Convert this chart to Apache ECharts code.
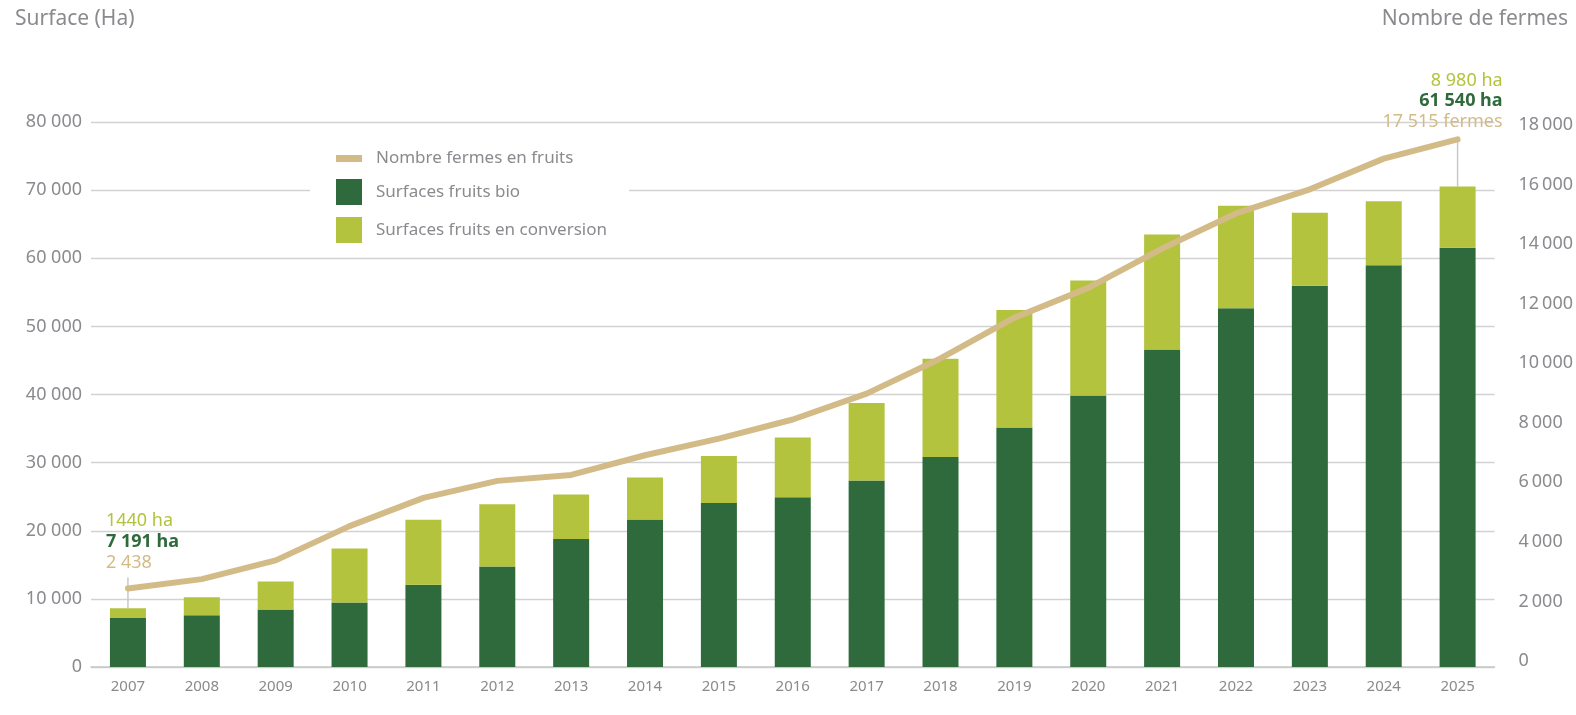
<!DOCTYPE html>
<html>
<head>
<meta charset="utf-8">
<script src="https://cdn.jsdelivr.net/npm/echarts@6/dist/echarts.min.js"></script>
<style>
  html, body { margin: 0; padding: 0; background: #fff; }
  #chart { width: 1576px; height: 715px; }
</style>
</head>
<body>
<div id="chart"></div>
<script>
// données
const annees = ['2007', '2008', '2009', '2010', '2011', '2012', '2013', '2014', '2015', '2016',
  '2017', '2018', '2019', '2020', '2021', '2022', '2023', '2024', '2025'];
const surfacesBio = [7191, 7590, 8430, 9450, 12090, 14740, 18790, 21640, 24070, 24910,
  27360, 30820, 35140, 39840, 46590, 52650, 55980, 58960, 61540];
const surfacesConversion = [1440, 2640, 4110, 7930, 9540, 9150, 6520, 6170, 6900, 8760,
  11390, 14440, 17260, 16880, 16880, 15070, 10710, 9390, 8980];
const nombreFermes = [2438, 2750, 3380, 4530, 5480, 6050, 6250, 6910, 7470, 8110,
  8980, 10160, 11530, 12530, 13850, 15030, 15840, 16870, 17515];
const fermesTicks = [0, 2000, 4000, 6000, 8000, 10000, 12000, 14000, 16000, 18000];

const labelsDebut = ['1440 ha', '7 191 ha', '2 438'];
const labelsFin = ['8 980 ha', '61 540 ha', '17 515 fermes'];

const VERT_FONCE = '#2e6a3b';
const VERT_CLAIR = '#b3c33e';
const BEIGE = '#d3bb88';
const GRIS = '#8a8a8f';
const FONT = 'Noto Sans';

const chart = echarts.init(document.getElementById('chart'));

const milliers = (v, sep) => String(v).replace(/\B(?=(\d{3})+(?!\d))/g, sep);

const option = {
  animation: false,
  textStyle: { fontFamily: FONT },
  grid: { left: 91, right: 79, top: 122, bottom: 48 },
  legend: {
    orient: 'vertical',
    left: 310,
    top: 140,
    padding: [10, 22, 10, 26],
    backgroundColor: '#fff',
    itemWidth: 26,
    itemHeight: 26,
    itemGap: 12,
    textStyle: { color: GRIS, fontSize: 17, padding: [0, 0, 0, 9] },
    data: [
      { name: 'Nombre fermes en fruits', icon: 'path://M0 0H26V7H0Z' },
      { name: 'Surfaces fruits bio', icon: 'rect' },
      { name: 'Surfaces fruits en conversion', icon: 'rect' }
    ]
  },
  xAxis: {
    type: 'category',
    data: annees,
    axisTick: { show: false },
    axisLine: { lineStyle: { color: '#c8c8c8', width: 1.5 } },
    axisLabel: { color: GRIS, fontSize: 15, margin: 12 }
  },
  yAxis: [
    {
      type: 'value',
      min: 0,
      max: 80000,
      interval: 10000,
      axisLabel: { color: GRIS, fontSize: 18, margin: 9, formatter: v => milliers(v, ' ') },
      splitLine: { lineStyle: { color: '#d2d2d2', width: 1.3 } }
    },
    {
      type: 'value',
      min: -200,
      max: 18100,
      splitLine: { show: false },
      axisLine: { show: false },
      axisTick: { show: false },
      axisLabel: {
        color: GRIS,
        fontSize: 18,
        margin: 24,
        customValues: fermesTicks,
        formatter: v => milliers(v, '\u2009')
      }
    }
  ],
  series: [
    {
      name: 'Surfaces fruits bio',
      type: 'bar',
      stack: 'surface',
      barWidth: 36,
      itemStyle: { color: VERT_FONCE },
      data: surfacesBio
    },
    {
      name: 'Surfaces fruits en conversion',
      type: 'bar',
      stack: 'surface',
      barWidth: 36,
      itemStyle: { color: VERT_CLAIR },
      data: surfacesConversion
    },
    {
      name: 'Nombre fermes en fruits',
      type: 'line',
      yAxisIndex: 1,
      symbol: 'none',
      z: 5,
      lineStyle: { color: BEIGE, width: 6, join: 'round', cap: 'round' },
      itemStyle: { color: BEIGE },
      data: nombreFermes
    }
  ]
};

chart.setOption(option);

// annotations début / fin, placées via les échelles du graphique
const dernier = annees.length - 1;
const ptLigne = i => chart.convertToPixel({ xAxisIndex: 0, yAxisIndex: 1 }, [annees[i], nombreFermes[i]]);
const ptBarre = i => chart.convertToPixel({ xAxisIndex: 0, yAxisIndex: 0 }, [annees[i], surfacesBio[i] + surfacesConversion[i]]);

const couleurs = [VERT_CLAIR, VERT_FONCE, BEIGE];
const graisses = ['normal', 'bold', 'normal'];

const textes = (labels, x, yBas, align) => labels.map((t, k) => ({
  type: 'text',
  x: x,
  y: yBas - (2 - k) * 20.7,
  style: {
    text: t,
    fill: couleurs[k],
    font: graisses[k] + ' 18px "' + FONT + '"',
    align: align,
    verticalAlign: 'middle'
  }
}));

const l0 = ptLigne(0), b0 = ptBarre(0);
const lN = ptLigne(dernier), bN = ptBarre(dernier);

chart.setOption({
  graphic: [
    { type: 'line', shape: { x1: b0[0], y1: b0[1], x2: b0[0], y2: l0[1] - 11 }, style: { stroke: '#c8c8c8', lineWidth: 1.5 } },
    { type: 'line', shape: { x1: bN[0], y1: bN[1], x2: bN[0], y2: lN[1] }, style: { stroke: '#c8c8c8', lineWidth: 1.5 }, z: 1 },
    ...textes(labelsDebut, l0[0] - 22, l0[1] - 25.7, 'left'),
    ...textes(labelsFin, lN[0] + 45, lN[1] - 17.5, 'right'),
    { type: 'text', left: 15, top: 9, style: { text: 'Surface (Ha)', fill: GRIS, font: '21px "' + FONT + '"' } },
    { type: 'text', right: 8, top: 9, style: { text: 'Nombre de fermes', fill: GRIS, font: '21px "' + FONT + '"' } }
  ]
});

window.addEventListener('resize', () => chart.resize());
</script>
</body>
</html>
